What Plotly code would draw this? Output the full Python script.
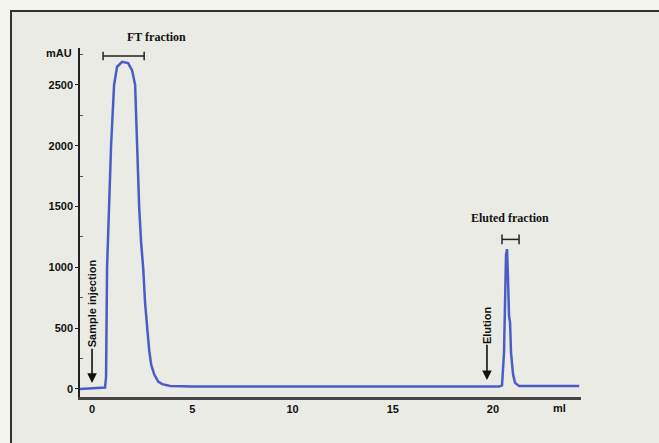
import plotly.graph_objects as go

# Chromatogram trace (volume in ml, absorbance in mAU)
ml = [-0.6, 0.0, 0.3, 0.65, 0.70, 0.73, 0.75, 0.85, 0.95, 1.10, 1.25, 1.50, 1.80, 2.00,
      2.15, 2.25, 2.35, 2.45, 2.55, 2.65, 2.75, 2.85, 2.95, 3.10, 3.30, 3.50, 3.90, 5.0,
      10.0, 15.0, 20.30, 20.45, 20.55, 20.65, 20.70, 20.75, 20.80, 20.85, 20.90, 21.00,
      21.10, 21.30, 24.3]
mAU = [0, 5, 8, 12, 100, 600, 1000, 1500, 2000, 2500, 2650, 2690, 2680, 2620,
       2500, 2000, 1500, 1200, 1000, 700, 500, 320, 200, 120, 60, 40, 25, 20,
       20, 20, 20, 30, 300, 1100, 1150, 900, 600, 550, 300, 120,
       50, 25, 25]

y_ticks = [0, 500, 1000, 1500, 2000, 2500]
x_ticks = [0, 5, 10, 15, 20]

x_range = [-0.6, 24.39]
y_range = [-66, 2804]

fig = go.Figure()
fig.add_trace(go.Scatter(x=ml, y=mAU, mode="lines",
                         line=dict(color="#4b5cc8", width=2.5), hoverinfo="skip"))

# outer framed box
fig.add_shape(type="rect", xref="paper", yref="paper",
              x0=-0.1377, y0=-0.5, x1=1.3, y1=1.106,
              fillcolor="#ebebe5", line=dict(color="#333333", width=2), layer="below")

txt = dict(family="Liberation Sans", size=11, color="#111111")
serif = dict(family="Liberation Serif", size=12, color="#111111")

# brackets
def bracket(x0, x1, y, h):
    fig.add_shape(type="line", xref="x", yref="y", x0=x0, x1=x1, y0=y, y1=y,
                  line=dict(color="#222222", width=1.5))
    for xx in (x0, x1):
        fig.add_shape(type="line", xref="x", yref="y", x0=xx, x1=xx, y0=y - h, y1=y + h,
                      line=dict(color="#222222", width=1.5))

bracket(0.55, 2.6, 2738, 35)
bracket(20.45, 21.3, 1230, 40)

annotations = [
    dict(x=0.0898, y=1.0315, xref="paper", yref="paper", text="<b>FT fraction</b>",
         showarrow=False, font=serif, yanchor="middle"),
    dict(x=20.85, y=1410, xref="x", yref="y", text="<b>Eluted fraction</b>",
         showarrow=False, font=serif),
    dict(x=0.0, y=705, xref="x", yref="y", text="<b>Sample injection</b>", textangle=-90,
         showarrow=False, font=txt),
    dict(x=19.7, y=525, xref="x", yref="y", text="<b>Elution</b>", textangle=-90,
         showarrow=False, font=txt),
    dict(x=0.0, y=50, ax=0.0, ay=344, xref="x", yref="y", axref="x", ayref="y", text="",
         showarrow=True, arrowhead=2, arrowsize=1.2, arrowwidth=1.6, arrowcolor="#111111"),
    dict(x=19.7, y=74, ax=19.7, ay=377, xref="x", yref="y", axref="x", ayref="y", text="",
         showarrow=True, arrowhead=2, arrowsize=1.2, arrowwidth=1.6, arrowcolor="#111111"),
    dict(x=-0.012, y=0.986, xref="paper", yref="paper", text="<b>mAU</b>", showarrow=False,
         xanchor="right", yanchor="middle", font=txt),
    dict(x=0.974, y=-0.032, xref="paper", yref="paper", text="<b>ml</b>", showarrow=False,
         yanchor="middle", font=txt),
]

fig.update_layout(
    width=659, height=443,
    margin=dict(l=80, r=78, t=48, b=46),
    paper_bgcolor="#f4f4ee", plot_bgcolor="rgba(0,0,0,0)",
    showlegend=False, annotations=annotations,
    xaxis=dict(range=x_range, tickvals=x_ticks, ticktext=[f"<b>{v}</b>" for v in x_ticks],
               showgrid=False, zeroline=False, showline=True, linecolor="#444444",
               linewidth=3, ticks="", tickfont=txt, fixedrange=True),
    yaxis=dict(range=y_range, tickvals=y_ticks, ticktext=[f"<b>{v}</b>" for v in y_ticks],
               showgrid=False, zeroline=False, showline=True, linecolor="#222222",
               linewidth=1.5, ticks="outside", ticklen=3, tickcolor="#222222",
               tickfont=txt, fixedrange=True,
               minor=dict(tickvals=[250, 750, 1250, 1750, 2250, 2750], ticks="inside",
                          ticklen=3, tickcolor="#555555")),
)

fig.write_html("out.html", config={"displayModeBar": False},
               post_script="document.body.style.margin='0';"
                           "document.body.style.background='#f4f4ee';")
